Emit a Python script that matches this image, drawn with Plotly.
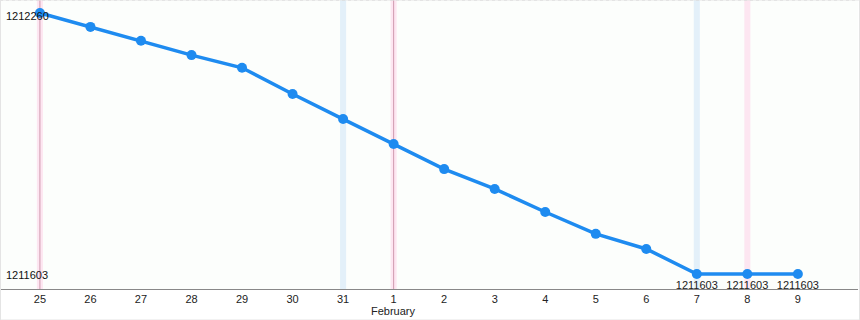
import plotly.graph_objects as go

days = ["25", "26", "27", "28", "29", "30", "31", "1", "2", "3", "4", "5", "6", "7", "8", "9"]
values = [1212260, 1212225, 1212190, 1212154, 1212122, 1212056, 1211993, 1211930,
          1211867, 1211817, 1211759, 1211704, 1211666, 1211603, 1211603, 1211603]
blue_band_days = ["31", "7"]
pink_band_days = ["25", "1", "8"]
red_line_days = ["25", "1"]
labelled_days = ["7", "8", "9"]
month_label_day = "1"
month_label = "February"

x = list(range(len(days)))
point_text = [f"{v}" if d in labelled_days else "" for d, v in zip(days, values)]

shapes = []
hw = 0.06
for d in blue_band_days:
    i = days.index(d)
    shapes.append(dict(type="rect", xref="x", yref="paper", x0=i - hw, x1=i + hw, y0=0, y1=1,
                       fillcolor="#e3f0f9", line=dict(width=0), layer="below"))
for d in pink_band_days:
    i = days.index(d)
    shapes.append(dict(type="rect", xref="x", yref="paper", x0=i - hw, x1=i + hw, y0=0, y1=1,
                       fillcolor="#fde6f1", line=dict(width=0), layer="below"))
for d in red_line_days:
    i = days.index(d)
    shapes.append(dict(type="line", xref="x", yref="paper", x0=i, x1=i, y0=0, y1=1,
                       line=dict(color="#cf9aae", width=1), layer="below"))
# top dotted border
shapes.append(dict(type="line", xref="paper", yref="paper", x0=0, x1=1, y0=1, y1=1,
                   line=dict(color="#cccccc", width=1, dash="dot")))
# outer light border
shapes.append(dict(type="rect", xref="paper", yref="paper", x0=0.0006, x1=859.5 / 858, y0=-31 / 289, y1=1,
                   line=dict(color="#e4e4e4", width=1), fillcolor="rgba(0,0,0,0)"))

annotations = []
ymin, ymax = min(values), max(values)
annotations.append(dict(xref="paper", yref="y", x=0, y=ymax, text=str(ymax), showarrow=False,
                        xanchor="left", yanchor="middle", xshift=4, yshift=-3,
                        font=dict(size=11, color="#111111")))
annotations.append(dict(xref="paper", yref="y", x=0, y=ymin, text=str(ymin), showarrow=False,
                        xanchor="left", yanchor="middle", xshift=4, yshift=-1,
                        font=dict(size=11, color="#111111")))
annotations.append(dict(xref="x", yref="paper", x=days.index(month_label_day), y=0, text=month_label,
                        showarrow=False, xanchor="center", yanchor="middle", yshift=-22,
                        font=dict(size=11, color="#222222")))

fig = go.Figure()
fig.add_trace(go.Scatter(
    x=x, y=values, mode="lines+markers+text",
    line=dict(color="#1e8bf0", width=3.5),
    marker=dict(color="#1e8bf0", size=10),
    text=point_text, textposition="bottom center",
    textfont=dict(size=11, color="#222222"),
    cliponaxis=False, hoverinfo="skip",
))

fig.update_layout(
    width=860, height=320,
    margin=dict(l=0, r=2, t=0, b=31),
    paper_bgcolor="white", plot_bgcolor="#fcfefc",
    font=dict(family="Liberation Sans, Arial, sans-serif", size=11, color="#222222"),
    showlegend=False,
    shapes=shapes,
    annotations=annotations,
    xaxis=dict(range=[-0.79, 16.19], tickvals=x, ticktext=days,
               showgrid=False, zeroline=False, showline=True, linecolor="#888888", linewidth=1,
               ticks="", tickfont=dict(size=11, color="#222222"), fixedrange=True),
    yaxis=dict(range=[1211565.2, 1212292.7], showticklabels=False,
               showgrid=False, zeroline=False, showline=False, ticks="", fixedrange=True),
)

fig.write_html("out.html")
